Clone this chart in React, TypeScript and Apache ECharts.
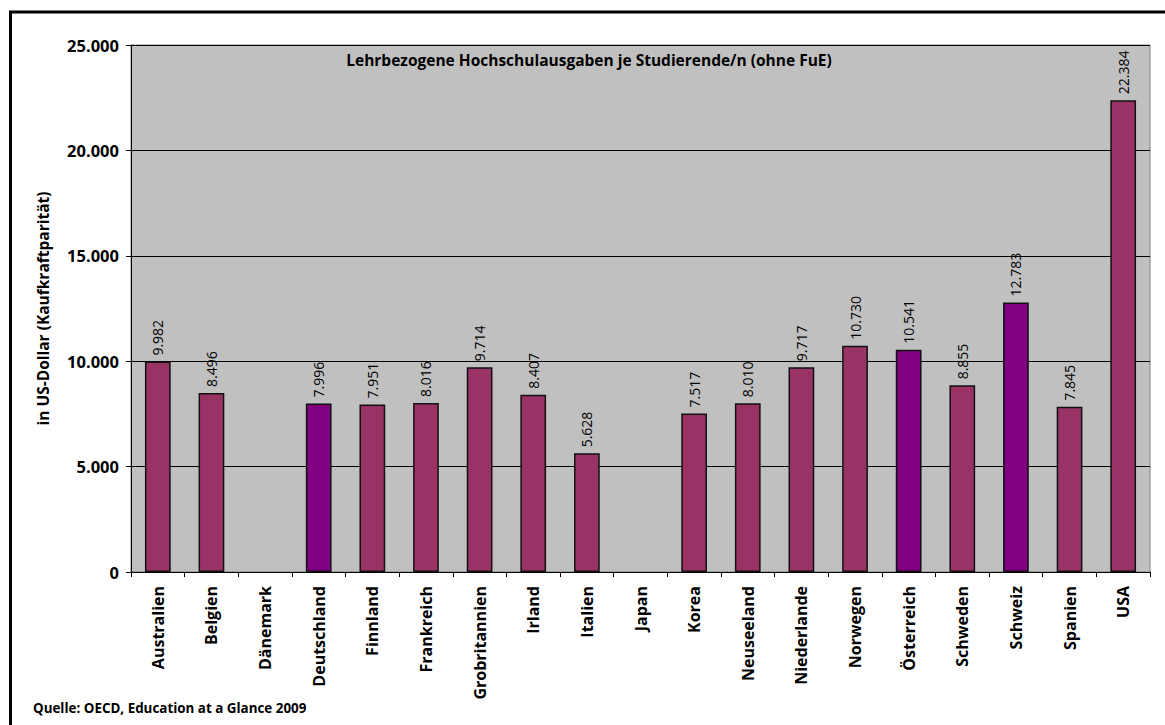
import React, { useEffect, useRef } from "react";
import * as echarts from "echarts";

const categories = [
  "Australien", "Belgien", "Dänemark", "Deutschland", "Finnland", "Frankreich",
  "Grobritannien", "Irland", "Italien", "Japan", "Korea", "Neuseeland",
  "Niederlande", "Norwegen", "Österreich", "Schweden", "Schweiz", "Spanien", "USA",
];
const values: (number | null)[] = [
  9982, 8496, null, 7996, 7951, 8016, 9714, 8407, 5628, null, 7517, 8010,
  9717, 10730, 10541, 8855, 12783, 7845, 22384,
];
const highlighted = ["Deutschland", "Österreich", "Schweiz"];
const yTicks = [0, 5000, 10000, 15000, 20000, 25000];
const titleText = "Lehrbezogene Hochschulausgaben je Studierende/n (ohne FuE)";
const yAxisName = "in US-Dollar (Kaufkraftparität)";
const sourceText = "Quelle: OECD, Education at a Glance 2009";

const FONT = "'Open Sans', 'Noto Sans', sans-serif";

function fmt(v: number): string {
  return String(Math.round(v)).replace(/\B(?=(\d{3})+(?!\d))/g, ".");
}

export default function App() {
  const ref = useRef<HTMLDivElement>(null);
  useEffect(() => {
    if (!ref.current) return;
    const chart = echarts.init(ref.current, null, { renderer: "svg" });
    const data = categories.map((c, i) => ({
      value: values[i],
      itemStyle: { color: highlighted.includes(c) ? "#800080" : "#993366" },
    }));
    chart.setOption({
      animation: false,
      textStyle: { fontFamily: FONT },
      grid: {
        left: 131,
        top: 45,
        right: 15,
        bottom: 153,
        show: true,
        backgroundColor: "#C0C0C0",
        borderColor: "#808080",
        borderWidth: 1,
      },
      xAxis: {
        type: "category",
        data: categories,
        axisLine: { show: true, lineStyle: { color: "#000", width: 1 } },
        axisTick: { show: true, alignWithLabel: false, length: 5, lineStyle: { color: "#000" } },
        axisLabel: {
          rotate: 90,
          interval: 0,
          margin: 14,
          color: "#000",
          fontWeight: "bold",
          fontSize: 16,
          fontFamily: FONT,
        },
      },
      yAxis: {
        type: "value",
        min: yTicks[0],
        max: yTicks[yTicks.length - 1],
        interval: 5000,
        name: yAxisName,
        nameLocation: "middle",
        nameGap: 80,
        nameRotate: 90,
        nameTextStyle: { color: "#000", fontWeight: "bold", fontSize: 15.5, fontFamily: FONT },
        axisLine: { show: true, lineStyle: { color: "#000", width: 1 } },
        axisTick: { show: true, length: 5, lineStyle: { color: "#000" } },
        axisLabel: {
          margin: 12,
          color: "#000",
          fontWeight: "bold",
          fontSize: 16.5,
          fontFamily: FONT,
          formatter: (v: number) => fmt(v),
        },
        splitLine: { show: true, lineStyle: { color: "#000", width: 1 } },
      },
      series: [
        {
          type: "bar",
          data,
          barWidth: "48%",
          itemStyle: { borderColor: "#111", borderWidth: 1.5 },
          label: {
            show: true,
            position: "top",
            rotate: 90,
            align: "left",
            verticalAlign: "middle",
            distance: 6,
            color: "#000",
            fontSize: 14,
            fontFamily: FONT,
            formatter: (p: any) => (p.value == null ? "" : fmt(p.value)),
          },
        },
      ],
      graphic: [
        {
          type: "rect",
          shape: { x: 10.5, y: 12, width: 1170, height: 730 },
          style: { fill: "none", stroke: "#000", lineWidth: 3 },
          silent: true,
          z: 100,
        },
        {
          type: "text",
          x: 589,
          y: 60,
          style: {
            text: titleText,
            align: "center",
            verticalAlign: "middle",
            fontSize: 15.5,
            fontWeight: "bold",
            fontFamily: FONT,
            fill: "#000",
          },
          z: 100,
        },
        {
          type: "text",
          x: 33,
          y: 708,
          style: {
            text: sourceText,
            align: "left",
            verticalAlign: "middle",
            fontSize: 13.4,
            fontWeight: "bold",
            fontFamily: FONT,
            fill: "#000",
          },
          z: 100,
        },
      ],
    });
    return () => chart.dispose();
  }, []);
  return (
    <div
      ref={ref}
      style={{ position: "absolute", left: 0, top: 0, width: 1165, height: 725, background: "#fff" }}
    />
  );
}
